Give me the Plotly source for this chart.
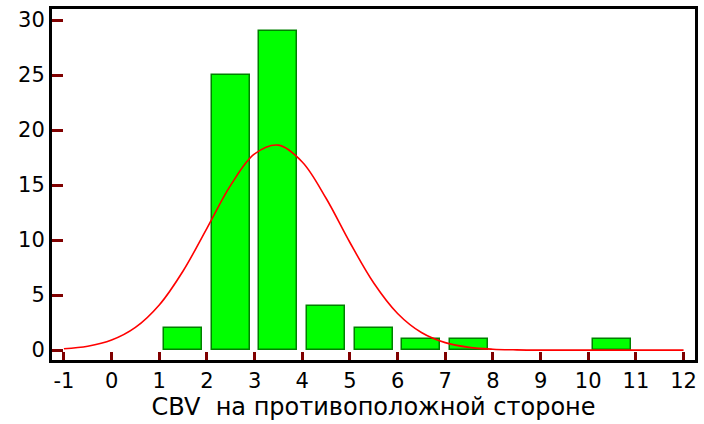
import plotly.graph_objects as go

# Histogram data (bin starts, counts)
bin_start = [1, 2, 3, 4, 5, 6, 7, 10]
counts = [2, 25, 29, 4, 2, 1, 1, 1]

# Fitted normal curve
curve_x = [-1, -0.5, 0, 0.5, 1, 1.5, 2, 2.5, 3, 3.5, 4, 4.5, 5, 5.5, 6, 6.5, 7, 7.5, 8, 8.5, 9, 10, 11, 12]
curve_y = [0.12, 0.35, 0.91, 2.06, 4.10, 7.19, 11.07, 14.99, 17.83, 18.63, 17.10, 13.80, 9.78, 6.10,
           3.33, 1.60, 0.68, 0.25, 0.08, 0.02, 0, 0, 0, 0]

x_ticks = list(range(-1, 13))
y_ticks = [0, 5, 10, 15, 20, 25, 30]
x_title = "CBV  на противоположной стороне"

bar_centers = [b + 0.5 for b in bin_start]

fig = go.Figure()
fig.add_trace(go.Bar(
    x=bar_centers, y=counts, width=0.8,
    marker=dict(color="#00FF00", line=dict(color="#008000", width=1.5)),
    showlegend=False,
))
fig.add_trace(go.Scatter(
    x=curve_x, y=curve_y, mode="lines",
    line=dict(color="#FF0000", width=1.6, shape="spline"),
    showlegend=False,
))

font = dict(family="DejaVu Sans, sans-serif", size=21, color="black")

fig.update_layout(
    width=704, height=424,
    margin=dict(l=52, r=6, t=8, b=64),
    plot_bgcolor="white", paper_bgcolor="white",
    font=font,
    bargap=0,
    xaxis=dict(
        range=[-1.25, 12.24], tickvals=x_ticks, ticktext=[str(v) for v in x_ticks],
        showgrid=False, zeroline=False,
        showline=True, linecolor="black", linewidth=3, mirror=True,
        ticks="inside", ticklen=8, tickwidth=2.5, tickcolor="#800000",
        tickfont=dict(size=21),
        title=dict(text=x_title, font=dict(size=24), standoff=6),
    ),
    yaxis=dict(
        range=[-0.9, 31.0], tickvals=y_ticks,
        showgrid=False, zeroline=False,
        showline=True, linecolor="black", linewidth=3, mirror=True,
        ticks="inside", ticklen=11, tickwidth=2.5, tickcolor="#800000",
        tickfont=dict(size=21),
    ),
)

fig.write_html("out.html")
